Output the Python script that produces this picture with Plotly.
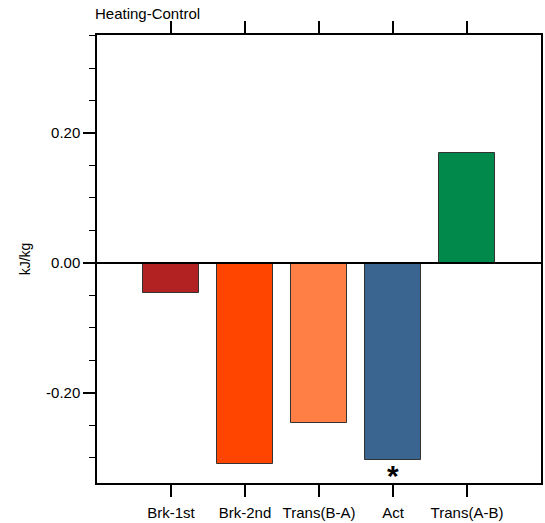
import plotly.graph_objects as go

# Heating minus control differences per phase (kJ/kg)
categories = ["Brk-1st", "Brk-2nd", "Trans(B-A)", "Act", "Trans(A-B)"]
values = [-0.047, -0.310, -0.247, -0.304, 0.169]
colors = ["#B22222", "#FF4500", "#FF7F45", "#3A6590", "#00894A"]
significant = [False, False, False, True, False]

ytick_vals = [-0.2, 0.0, 0.2]
ytick_text = ["-0.20", "0.00", "0.20"]

FONT = "Liberation Sans, Arial, Helvetica, sans-serif"

fig = go.Figure()
fig.add_trace(go.Bar(
    x=categories,
    y=values,
    width=0.75,
    marker=dict(color=colors, line=dict(color="#333333", width=1)),
    showlegend=False,
))

# significance markers beneath the bars
for cat, val, sig in zip(categories, values, significant):
    if sig:
        fig.add_annotation(
            x=cat, y=val, xref="x", yref="y",
            text="<b>*</b>", showarrow=False,
            yanchor="top", yshift=3,
            font=dict(size=30, color="black", family=FONT),
        )

# horizontal reference line at zero
fig.add_shape(type="line", xref="paper", x0=0, x1=1, yref="y", y0=0, y1=0,
              line=dict(color="black", width=2), layer="above")

fig.add_annotation(
    x=0, y=1, xref="paper", yref="paper", xanchor="left", yanchor="bottom",
    text="Heating-Control", showarrow=False, yshift=11, xshift=-4,
    font=dict(size=15, color="black", family=FONT),
)

fig.update_layout(
    width=545, height=523,
    margin=dict(l=97, r=2, t=35, b=39),
    paper_bgcolor="white", plot_bgcolor="white",
    font=dict(family=FONT, size=15, color="black"),
    bargap=0,
)
fig.update_xaxes(
    type="category", range=[-1, 5],
    showline=True, linecolor="black", linewidth=1.5, mirror="ticks",
    ticks="outside", ticklen=12, tickwidth=1.5, tickcolor="black",
    showgrid=False, zeroline=False,
    tickfont=dict(size=15, family=FONT),
    ticklabelstandoff=3,
)
fig.update_yaxes(
    range=[-0.339, 0.351],
    tickvals=ytick_vals, ticktext=ytick_text,
    showline=True, linecolor="black", linewidth=1.5, mirror=True,
    ticks="outside", ticklen=12, tickwidth=1.5, tickcolor="black",
    minor=dict(dtick=0.05, tick0=0, ticks="outside", ticklen=6,
               tickwidth=1, tickcolor="black", showgrid=False),
    showgrid=False, zeroline=False,
    tickfont=dict(size=15, family=FONT),
    title=dict(text="kJ/kg", font=dict(size=14, family=FONT), standoff=12),
)

fig.write_html("out.html")
